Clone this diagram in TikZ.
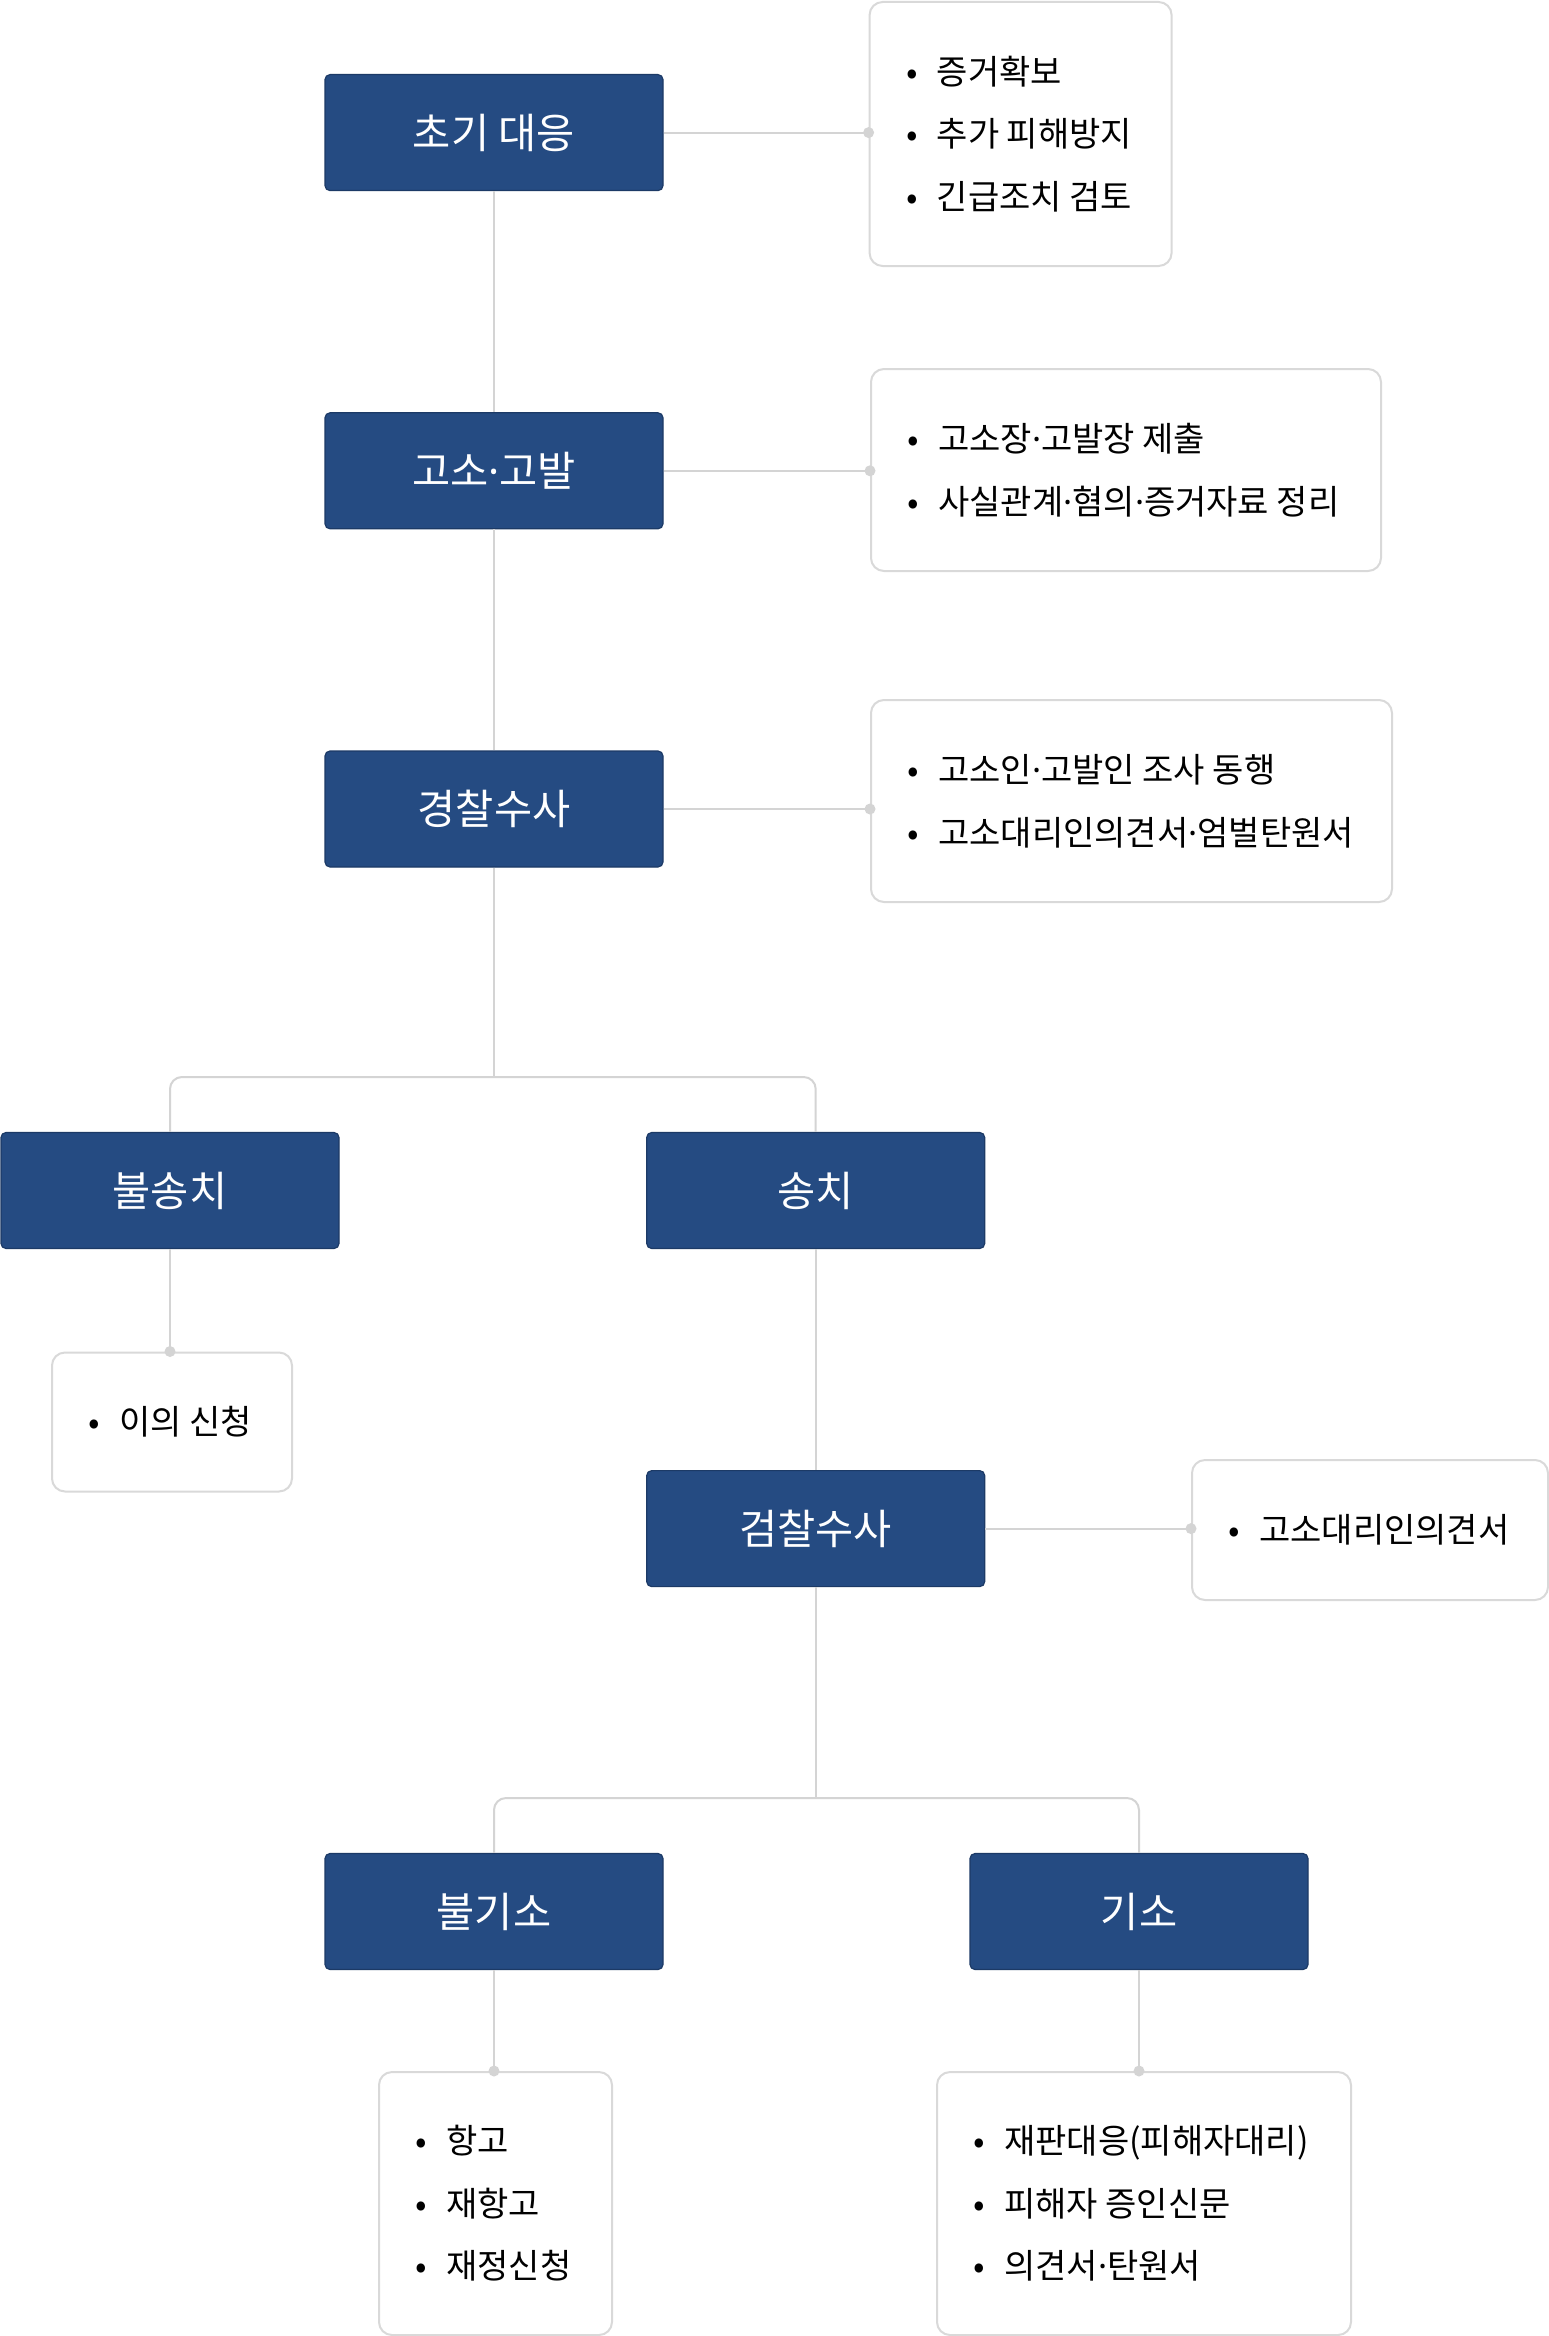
\documentclass[tikz,border=0pt]{standalone}
\usepackage{fontspec}
\setmainfont{Noto Sans CJK KR}
\newfontfamily\latinf{Noto Sans}
\definecolor{navy}{HTML}{254B82}
\definecolor{navyedge}{HTML}{1C3A66}
\definecolor{lineg}{HTML}{D4D4D4}
\definecolor{boxg}{HTML}{D9D9D9}
\newcommand\bl{\makebox[26pt]{•}\hspace{12pt}}
\newcommand\md{{\latinf ·}}
\tikzset{
  stage/.style={draw=navyedge, line width=1.2pt, fill=navy, rounded corners=5pt,
    minimum width=338pt, minimum height=116pt, inner sep=0pt,
    text=white, font=\fontsize{41.5}{48}\selectfont},
  infobox/.style={draw=boxg, line width=2pt, fill=white, rounded corners=13pt,
    inner sep=0pt, anchor=north west},
  listtext/.style={anchor=west, inner sep=0pt, align=left, text=black,
    font=\fontsize{34}{62.6}\selectfont},
  conn/.style={draw=lineg, line width=2pt},
  pin/.style={circle, fill=lineg, inner sep=0pt, minimum size=11pt}
}
\begin{document}
\begin{tikzpicture}[x=1pt,y=1pt]
\useasboundingbox[fill=white] (0,0) rectangle (1548,-2336);

% stage boxes
\node[stage] (b1) at (494,-132.6) {초기 대응};
\node[stage] (b2) at (494,-470.8) {고소\md 고발};
\node[stage] (b3) at (494,-809) {경찰수사};
\node[stage] (bns) at (170,-1190.5) {불송치};
\node[stage] (bs) at (815.7,-1190.5) {송치};
\node[stage] (bgc) at (815.7,-1528.6) {검찰수사};
\node[stage] (bnk) at (494,-1911.5) {불기소};
\node[stage] (bk) at (1139,-1911.5) {기소};

% info boxes
\node[infobox, minimum width=302pt, minimum height=264pt] (w1) at (868.6,-1) {};
\node[infobox, minimum width=510pt, minimum height=202pt] (w2) at (870,-368) {};
\node[infobox, minimum width=521pt, minimum height=202pt] (w3) at (870,-699) {};
\node[infobox, minimum width=240pt, minimum height=139pt] (w4) at (51,-1351.5) {};
\node[infobox, minimum width=356pt, minimum height=140pt] (w5) at (1191,-1459) {};
\node[infobox, minimum width=233pt, minimum height=263pt] (w6) at (378,-2071) {};
\node[infobox, minimum width=414pt, minimum height=263pt] (w7) at (936,-2071) {};

\node[listtext] (t1) at ([xshift=30pt]w1.west) {\bl 증거확보\\\bl 추가 피해방지\\\bl 긴급조치 검토};
\node[listtext] (t2) at ([xshift=30pt]w2.west) {\bl 고소장\md 고발장 제출\\\bl 사실관계\md 혐의\md 증거자료 정리};
\node[listtext] (t3) at ([xshift=30pt]w3.west) {\bl 고소인\md 고발인 조사 동행\\\bl 고소대리인의견서\md 엄벌탄원서};
\node[listtext] (t4) at ([xshift=30pt]w4.west) {\bl 이의 신청};
\node[listtext] (t5) at ([xshift=30pt]w5.west) {\bl 고소대리인의견서};
\node[listtext] (t6) at ([xshift=30pt]w6.west) {\bl 항고\\\bl 재항고\\\bl 재정신청};
\node[listtext] (t7) at ([xshift=30pt]w7.west) {\bl 재판대응(피해자대리)\\\bl 피해자 증인신문\\\bl 의견서\md 탄원서};

\coordinate (j1) at (494,-1077);
\coordinate (j2) at (815.7,-1798);
\coordinate (p1) at (b1.east -| w1.west);
\coordinate (p2) at (b2.east -| w2.west);
\coordinate (p3) at (b3.east -| w3.west);
\coordinate (p5) at (bgc.east -| w5.west);
\coordinate (p4) at (bns.south |- w4.north);
\coordinate (p6) at (bnk.south |- w6.north);
\coordinate (p7) at (bk.south |- w7.north);

\draw[conn] (b1.south) -- (b2.north);
\draw[conn] (b2.south) -- (b3.north);
\draw[conn] (b3.south) -- (j1);
\draw[conn, rounded corners=12pt] (bns.north) |- (j1) -| (bs.north);
\draw[conn] (bs.south) -- (bgc.north);
\draw[conn] (bgc.south) -- (j2);
\draw[conn, rounded corners=12pt] (bnk.north) |- (j2) -| (bk.north);

\draw[conn] (b1.east) -- (p1);
\draw[conn] (b2.east) -- (p2);
\draw[conn] (b3.east) -- (p3);
\draw[conn] (bgc.east) -- (p5);
\draw[conn] (bns.south) -- (p4);
\draw[conn] (bnk.south) -- (p6);
\draw[conn] (bk.south) -- (p7);

\foreach \p in {p1,p2,p3,p4,p5,p6,p7} \node[pin] at (\p) {};
\end{tikzpicture}
\end{document}
